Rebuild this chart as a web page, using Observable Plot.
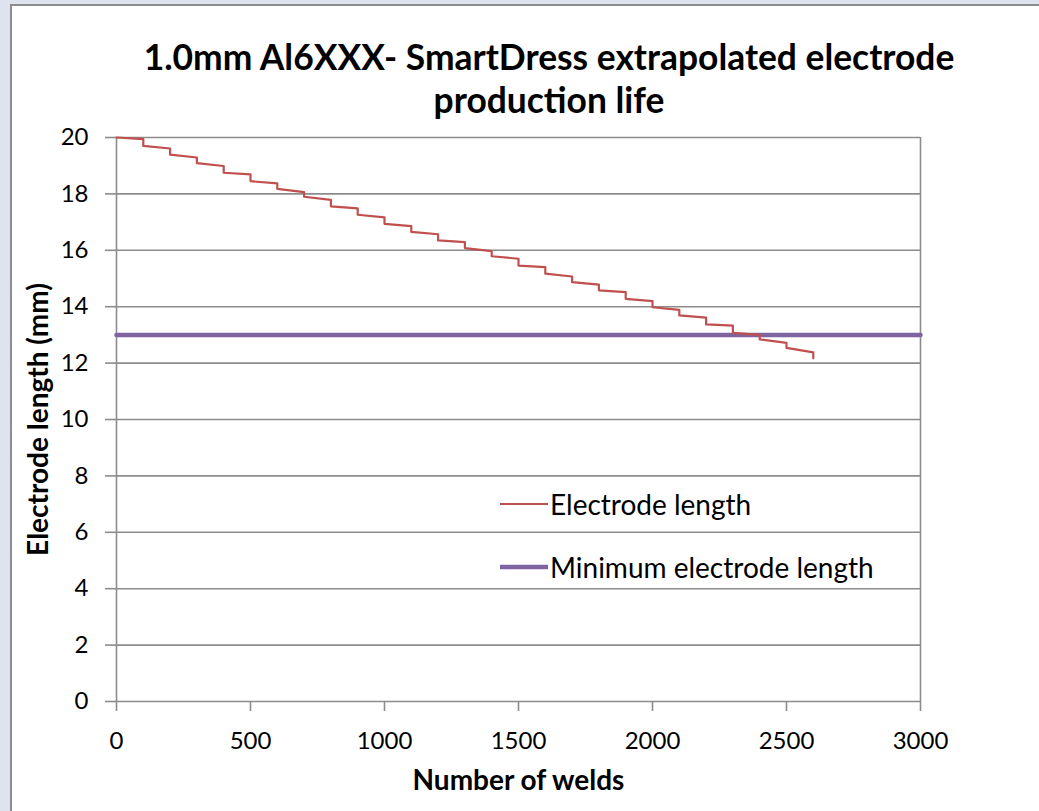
<!DOCTYPE html>
<html><head><meta charset="utf-8">
<script src="https://cdn.jsdelivr.net/npm/d3@7"></script>
<script src="https://cdn.jsdelivr.net/npm/@observablehq/plot@0.6"></script>
<style>
body{margin:0;background:#dfe3ef;width:1039px;height:811px;overflow:hidden;font-family:Lato,sans-serif;position:relative}
#panel{position:absolute;left:10px;top:4px;width:1040px;height:820px;background:#fff;border-left:2px solid #8c8c8c;border-top:2px solid #8c8c8c}
#title{position:absolute;left:0;top:35px;width:1098px;text-align:center;font-weight:bold;font-size:35.4px;line-height:43px;color:#000}
#chart{position:absolute;left:0;top:0}
#legend{position:absolute;left:500px;top:487px;font-size:28px;color:#000}
#legend .item{display:flex;align-items:center;height:34px;margin-bottom:29px}
#legend svg{margin-right:2px}
svg g[aria-label="y-axis label"] text, svg g[aria-label="x-axis label"] text{font-weight:bold;font-size:28px}
</style>
</head><body>
<div id="panel"></div>
<div id="chart"></div>
<div id="title">1.0mm Al6XXX- SmartDress extrapolated electrode<br>production life</div>
<div id="legend"></div>
<script>
const welds  = [0,100,100,200,200,300,300,400,400,500,500,600,600,700,700,800,800,900,900,1000,1000,1100,1100,1200,1200,1300,1300,1400,1400,1500,1500,1600,1600,1700,1700,1800,1800,1900,1900,2000,2000,2100,2100,2200,2200,2300,2300,2400,2400,2500,2500,2600,2600];
const electrodeLength = [20.00,19.94,19.70,19.61,19.39,19.29,19.09,18.99,18.75,18.69,18.45,18.37,18.18,18.06,17.90,17.79,17.56,17.49,17.26,17.17,16.94,16.86,16.65,16.57,16.35,16.29,16.08,15.97,15.79,15.70,15.46,15.40,15.17,15.07,14.87,14.78,14.58,14.52,14.28,14.20,13.98,13.89,13.69,13.61,13.37,13.33,13.07,13.00,12.84,12.72,12.54,12.38,12.17];
const minWelds = [0, 3000];
const minLength = [13, 13];
const xTicks = [0,500,1000,1500,2000,2500,3000];
const yTicks = [0,2,4,6,8,10,12,14,16,18,20];
const seriesNames = ["Electrode length", "Minimum electrode length"];
const seriesColors = ["#c0504d", "#8064a2"];

const elec = welds.map((w,i)=>({x:w, y:electrodeLength[i]}));
const minL = minWelds.map((w,i)=>({x:w, y:minLength[i]}));

const chart = Plot.plot({
  width: 1039, height: 811,
  marginLeft: 116, marginRight: 119, marginTop: 137, marginBottom: 110,
  style: {background: "transparent", fontFamily: "Lato, sans-serif", fontSize: "24px", color: "#000"},
  x: {domain: [0, 3000]},
  y: {domain: [0, 20]},
  marks: [
    Plot.ruleY(yTicks, {stroke: "#8c8c8c", strokeWidth: 1.6}),
    Plot.ruleX([3000], {stroke: "#8c8c8c", strokeWidth: 1.6}),
    Plot.ruleX([0], {stroke: "#8c8c8c", strokeWidth: 1.6}),
    Plot.axisY({ticks: yTicks, tickFormat: d => String(d), fontSize: 24, tickSize: 11, tickPadding: 17, stroke: "#8c8c8c", strokeOpacity: 1, strokeWidth: 1.6,
      label: "Electrode length (mm)", labelAnchor: "center", labelArrow: false, labelOffset: 88}),
    Plot.axisX({ticks: xTicks, tickFormat: d => String(d), fontSize: 24, tickSize: 10, tickPadding: 20, stroke: "#8c8c8c", strokeOpacity: 1, strokeWidth: 1.6,
      label: "Number of welds", labelAnchor: "center", labelArrow: false, labelOffset: 88}),
    Plot.line(minL, {x: "x", y: "y", stroke: seriesColors[1], strokeWidth: 4.5}),
    Plot.line(elec, {x: "x", y: "y", stroke: seriesColors[0], strokeWidth: 2.2, curve: "linear"})
  ]
});
document.getElementById("chart").appendChild(chart);

const legend = document.getElementById("legend");
seriesNames.forEach((name, i) => {
  const item = document.createElement("div");
  item.className = "item";
  item.innerHTML = `<svg width="48" height="10"><line x1="0" x2="48" y1="5" y2="5" stroke="${seriesColors[i]}" stroke-width="${i===0?2.2:4.5}"/></svg><span>${name}</span>`;
  legend.appendChild(item);
});
</script>
</body></html>
